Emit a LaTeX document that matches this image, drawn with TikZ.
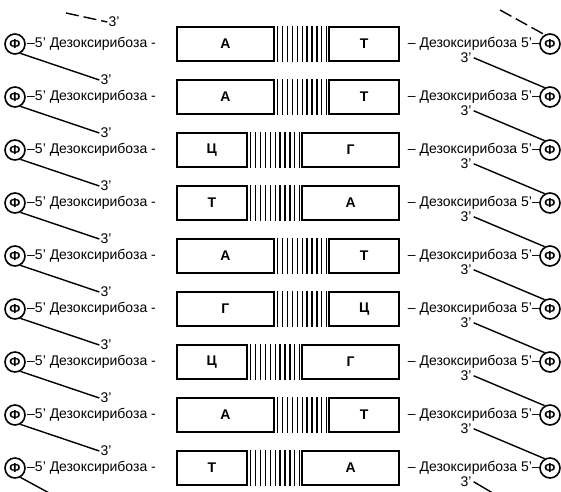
\documentclass[tikz,border=0pt]{standalone}
\usepackage{fontspec}
\setmainfont{Liberation Sans}
\begin{document}
\begin{tikzpicture}[x=1pt, y=-1pt,
    base/.style={rectangle, draw, line width=1.7pt, minimum height=34pt, inner sep=0pt, font=\fontsize{14}{16}\selectfont\bfseries},
    phos/.style={circle, draw, line width=1.6pt, minimum size=20pt, inner sep=0pt, font=\fontsize{13}{15}\selectfont\bfseries},
    sugar/.style={inner sep=1pt, font=\fontsize{14}{16}\selectfont},
    prime/.style={inner sep=1pt, font=\fontsize{14}{16}\selectfont},
    hbond/.style={draw, line width=1.3pt},
    link/.style={draw, line width=1.4pt}
]
    \useasboundingbox (0,0) rectangle (561,491);

    % base pairs, one row each
    \foreach \l/\r/\w [count=\i] in {А/Т/97, А/Т/97, Ц/Г/70, Т/А/70, А/Т/97, Г/Ц/97, Ц/Г/70, А/Т/97, Т/А/70}{
        \pgfmathsetmacro{\y}{44+(\i-1)*53}
        \pgfmathsetmacro{\v}{167-\w}
        \node [base, minimum width=\w pt, anchor=west] (bl\i) at (176,\y) {\l};
        \node [base, minimum width=\v pt, anchor=east] (br\i) at (400,\y) {\r};
        \foreach \k [evaluate=\k as \dx using 3+\k*4.9] in {0,...,10}
            \draw [hbond] ([xshift=\dx pt]bl\i.north east) -- ([xshift=\dx pt]bl\i.south east);
        \node [phos] (phL\i) at (15,\y) {Ф};
        \node [sugar, anchor=west] (sugL\i) at (26,\y) {–5' Дезоксирибоза -};
        \ifnum\i<9 \node [prime] (tL\i) at (106,\y+36) {3'}; \fi
        \node [sugar, anchor=east] (sugR\i) at (541,\y) {– Дезоксирибоза 5'–};
        \node [phos] (phR\i) at (550,\y) {Ф};
        \node [prime, inner sep=0pt, anchor=north] (tR\i) at (466,\y+8.6) {3'};
    }

    % sugar-phosphate backbone
    \node [prime] (tL0) at (114,22) {3'};
    \coordinate (topL) at (66,13);
    \coordinate (topR) at (500,10);
    \coordinate (endL) at (62,500);
    \coordinate (endR) at (530,515);
    \draw [link, dash pattern=on 13pt off 5pt] (topL) -- (tL0.west);
    \draw [link, dash pattern=on 13pt off 5pt] (topR) -- (phR1.120);
    \foreach \i [evaluate=\i as \j using int(\i+1)] in {1,...,8}{
        \draw [link] (phL\i.-60) -- (tL\i.west);
        \draw [link] ([xshift=2pt]tR\i.east) -- (phR\j.120);
    }
    \draw [link] (phL9.-60) -- (endL);
    \draw [link] ([xshift=2pt]tR9.east) -- (endR);
\end{tikzpicture}
\end{document}
